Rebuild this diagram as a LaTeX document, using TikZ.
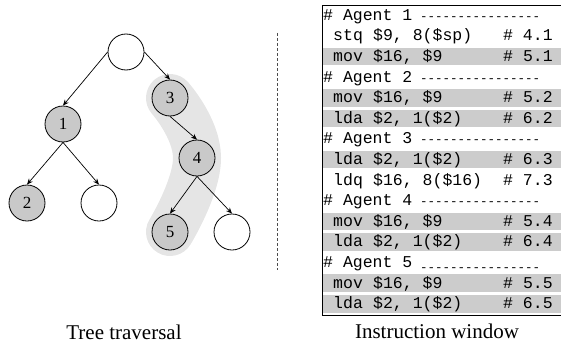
\documentclass[tikz,border=0pt]{standalone}
\usepackage{fontspec}
\setmainfont{Liberation Serif}
\setmonofont{Liberation Mono}
\usetikzlibrary{arrows.meta}
\definecolor{rowgray}{gray}{0.8}
\definecolor{nodegray}{gray}{0.79}
\definecolor{halogray}{gray}{0.9}
\tikzset{
  tnode/.style={circle,draw,line width=0.8pt,minimum size=36pt,inner sep=0pt,font=\fontsize{17}{17}\selectfont},
  visited/.style={tnode,fill=nodegray},
  tedge/.style={line width=0.7pt,-{Stealth[length=6pt,width=5pt]}},
  insline/.style={anchor=base west,inner sep=0pt,font=\fontsize{16.5}{16.5}\ttfamily},
  caption/.style={anchor=base,inner sep=0pt,font=\fontsize{21}{21}\selectfont}
}

\begin{document}
\begin{tikzpicture}[x=1pt,y=-1pt]
  \useasboundingbox (0,0) rectangle (561,345);
  % tree
  \coordinate (c3) at (170,98);
  \coordinate (c4) at (197,158);
  \coordinate (c5) at (170,232);
  \draw[halogray,line width=48pt,line cap=round] plot[smooth,tension=0.8] coordinates {(c3) (c4) (c5)};
  \node[tnode] (root) at (126,52) {};
  \node[visited] (n1) at (63,124) {1};
  \node[visited] (n2) at (27,203) {2};
  \node[tnode] (e1) at (99,203) {};
  \node[visited] (n3) at (c3) {3};
  \node[visited] (n4) at (c4) {4};
  \node[visited] (n5) at (c5) {5};
  \node[tnode] (e2) at (232,232) {};
  \draw[tedge] (root.west) -- (n1.north);
  \draw[tedge] (root.east) -- (n3.north);
  \draw[tedge] (n1.south) -- (n2.north);
  \draw[tedge] (n1.south) -- (e1.north);
  \draw[tedge] (n3.south) -- (n4.north);
  \draw[tedge] (n4.south) -- (n5.north);
  \draw[tedge] (n4.south) -- (e2.north);
  % divider
  \draw[black!70,line width=0.7pt,dash pattern=on 3pt off 2pt] (277,33) -- (277,270);
  % instruction window
  \foreach \r in {3,5,6,8,11,12,14,15}
    \fill[rowgray] (322.5,{5+(\r-1)*20.6+1.5}) rectangle (561,{5+\r*20.6-1.5});
  \draw[line width=0.8pt] (563,5) -| (322.5,315) -- (563,315);
  \foreach \a/\r in {1/1,2/4,3/7,4/10}
    \node[insline] (agent\a) at (323,{5+(\r-0.5)*20.6+5})
      {\makebox[97pt][l]{\# Agent \a}\fontsize{12.5}{13}\selectfont ----------------};
  \node[insline] (agent5) at (323,{5+12.5*20.6+5})
    {\makebox[97pt][l]{\# Agent 5}\raisebox{-4pt}{\fontsize{12.5}{13}\selectfont ----------------}};
  \foreach \r/\op/\args/\cmt in {2/stq/{\$9, 8(\$sp)}/4.1, 3/mov/{\$16, \$9}/5.1,
      5/mov/{\$16, \$9}/5.2, 6/lda/{\$2, 1(\$2)}/6.2, 8/lda/{\$2, 1(\$2)}/6.3,
      9/ldq/{\$16, 8(\$16)}/7.3, 11/mov/{\$16, \$9}/5.4, 12/lda/{\$2, 1(\$2)}/6.4,
      14/mov/{\$16, \$9}/5.5, 15/lda/{\$2, 1(\$2)}/6.5}
    \node[insline] (ins\r) at (333,{5+(\r-0.5)*20.6+5})
      {\makebox[40pt][l]{\op}\makebox[130pt][l]{\args}\# \cmt};
  % captions
  \node[caption] (treecap) at (124,339) {Tree traversal};
  \node[caption] (wincap) at (437,338) {Instruction window};
\end{tikzpicture}
\end{document}
